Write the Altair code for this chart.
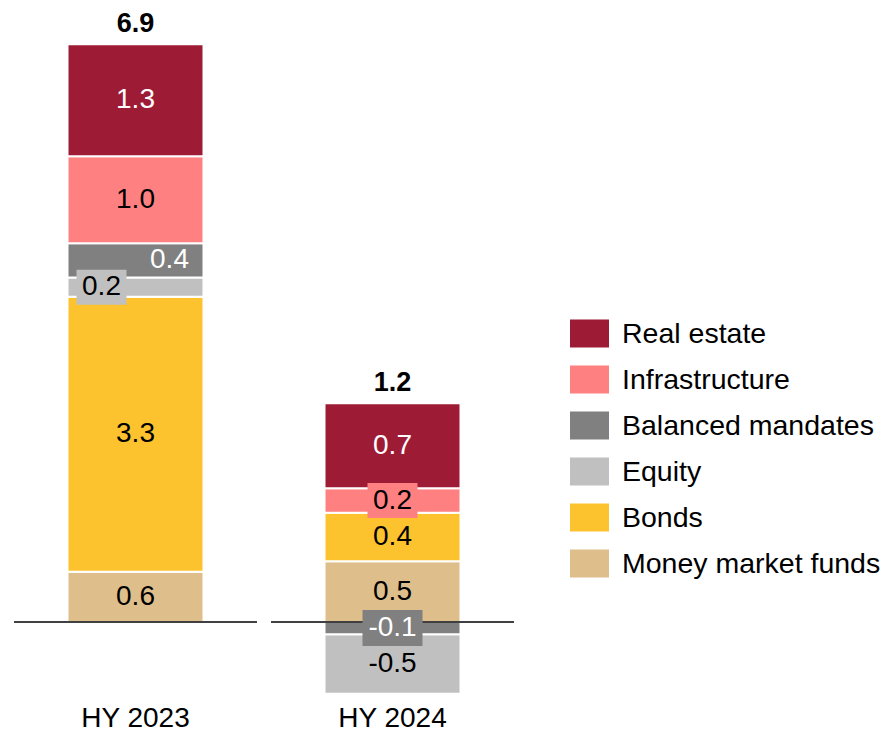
import altair as alt
import pandas as pd

FONT = "Liberation Sans, Arial, sans-serif"

periods = ["HY 2023", "HY 2024"]
categories = ["Money market funds", "Bonds", "Equity", "Balanced mandates", "Infrastructure", "Real estate"]
values_2023 = [0.60, 3.29, 0.23, 0.41, 1.04, 1.34]
values_2024 = [0.50, 0.40, -0.49, -0.10, 0.20, 0.70]
colors = ["#DEBE8A", "#FCC32E", "#C0C0C0", "#808080", "#FF8080", "#9E1B35"]

# label styling (which labels are shifted / boxed / white)
left_labels = [("HY 2023", "Equity")]
right_labels = [("HY 2023", "Balanced mandates")]
boxed_labels = [("HY 2023", "Equity"), ("HY 2024", "Infrastructure"), ("HY 2024", "Balanced mandates")]
white_text = ["Real estate", "Balanced mandates"]

rows = []
for p, vals in zip(periods, [values_2023, values_2024]):
    for i, (c, v) in enumerate(zip(categories, vals)):
        pos = "l" if (p, c) in left_labels else ("r" if (p, c) in right_labels else "c")
        rows.append({
            "period": p, "category": c, "value": v,
            "ord": i if v >= 0 else 10 - i,
            "pos": pos,
            "boxed": (p, c) in boxed_labels,
            "white": c in white_text,
        })
df = pd.DataFrame(rows)

legend_domain = categories[::-1]
legend_range = colors[::-1]

W, H = 243, 689
ZERO_PX = 614  # pixels above zero line in each panel
px_per_unit = {"HY 2023": 83.6, "HY 2024": 121.5}

color_scale = alt.Scale(domain=legend_domain, range=legend_range)


def panel(p):
    s = px_per_unit[p]
    ydom = [-(H - ZERO_PX) / s, ZERO_PX / s]
    yscale = alt.Scale(domain=ydom, nice=False, zero=False)
    base = alt.Chart(df).transform_filter(alt.datum.period == p)
    stacked = base.transform_stack(
        stack="value", as_=["y0", "y1"], groupby=["period"],
        sort=[alt.SortField("ord", order="ascending")],
    ).transform_calculate(
        ymid="(datum.y0 + datum.y1) / 2",
        lbl="(datum.value < 0 ? '-' : '') + format(abs(datum.value), '.1f')",
    )
    xenc = alt.X("period:N", title=None,
                 axis=alt.Axis(domain=False, ticks=False, labelAngle=0, labelFontSize=28,
                               labelFont=FONT, labelColor="black", labelPadding=7))
    bars = stacked.mark_bar(size=136, stroke="white", strokeWidth=2).encode(
        x=xenc,
        y=alt.Y("y0:Q", scale=yscale, axis=None),
        y2="y1:Q",
        color=alt.Color("category:N", scale=color_scale, legend=alt.Legend(
            title=None, orient="none", legendX=556, legendY=306,
            symbolType="M-1,-0.72H1V0.72H-1Z", symbolSize=1521,
            symbolStrokeWidth=0, symbolOpacity=1,
            labelFontSize=28.5, labelFont=FONT, labelColor="black",
            labelOffset=13, rowPadding=12, labelLimit=400, padding=0,
        )),
    )
    rule = alt.Chart(pd.DataFrame({"z": [0]})).mark_rule(color="black", strokeWidth=1.5).encode(
        y=alt.Y("z:Q", scale=yscale, axis=None), x=alt.value(0), x2=alt.value(W)
    )

    def box(filt, path, size, xoff):
        return stacked.transform_filter(filt).mark_point(
            shape=path, size=size, filled=True, opacity=1, strokeWidth=0, xOffset=xoff
        ).encode(
            x="period:N", y=alt.Y("ymid:Q", scale=yscale, axis=None),
            color=alt.Color("category:N", scale=color_scale),
        )

    box_pos_l = box("datum.boxed && datum.value >= 0 && datum.pos == 'l'", "M-1,-0.7H1V0.7H-1Z", 2500, -34)
    box_pos_c = box("datum.boxed && datum.value >= 0 && datum.pos == 'c'", "M-1,-0.7H1V0.7H-1Z", 2500, 0)
    box_neg_c = box("datum.boxed && datum.value < 0 && datum.pos == 'c'", "M-1,-0.6H1V0.6H-1Z", 3600, 0)

    def texts(posv, dx):
        return stacked.transform_filter(alt.datum.pos == posv).mark_text(
            fontSize=28, font=FONT, dx=dx, baseline="middle", align="center"
        ).encode(
            x="period:N", y=alt.Y("ymid:Q", scale=yscale, axis=None),
            text="lbl:N",
            color=alt.condition("datum.white", alt.value("white"), alt.value("black")),
        )

    t_c = texts("c", 0)
    t_l = texts("l", -34)
    t_r = texts("r", 34)

    totals = base.transform_calculate(pv="max(datum.value, 0)").transform_aggregate(
        top="sum(pv)", net="sum(value)", groupby=["period"]
    ).transform_calculate(
        tl="(datum.net < 0 ? '-' : '') + format(abs(datum.net), '.1f')"
    ).mark_text(fontSize=27, font=FONT, fontWeight="bold", baseline="alphabetic", dy=-12, color="black").encode(
        x="period:N", y=alt.Y("top:Q", scale=yscale, axis=None), text="tl:N"
    )

    return alt.layer(bars, rule, box_pos_l, box_pos_c, box_neg_c, t_c, t_l, t_r, totals).properties(
        width=W, height=H
    )


chart = alt.hconcat(panel("HY 2023"), panel("HY 2024"), spacing=12).resolve_scale(
    y="independent", x="independent"
).properties(
    padding={"left": 5, "top": 0, "right": 0, "bottom": 0}
).configure(font=FONT).configure_view(stroke=None)

chart.save("out.html", embed_options={"renderer": "svg", "actions": False})
